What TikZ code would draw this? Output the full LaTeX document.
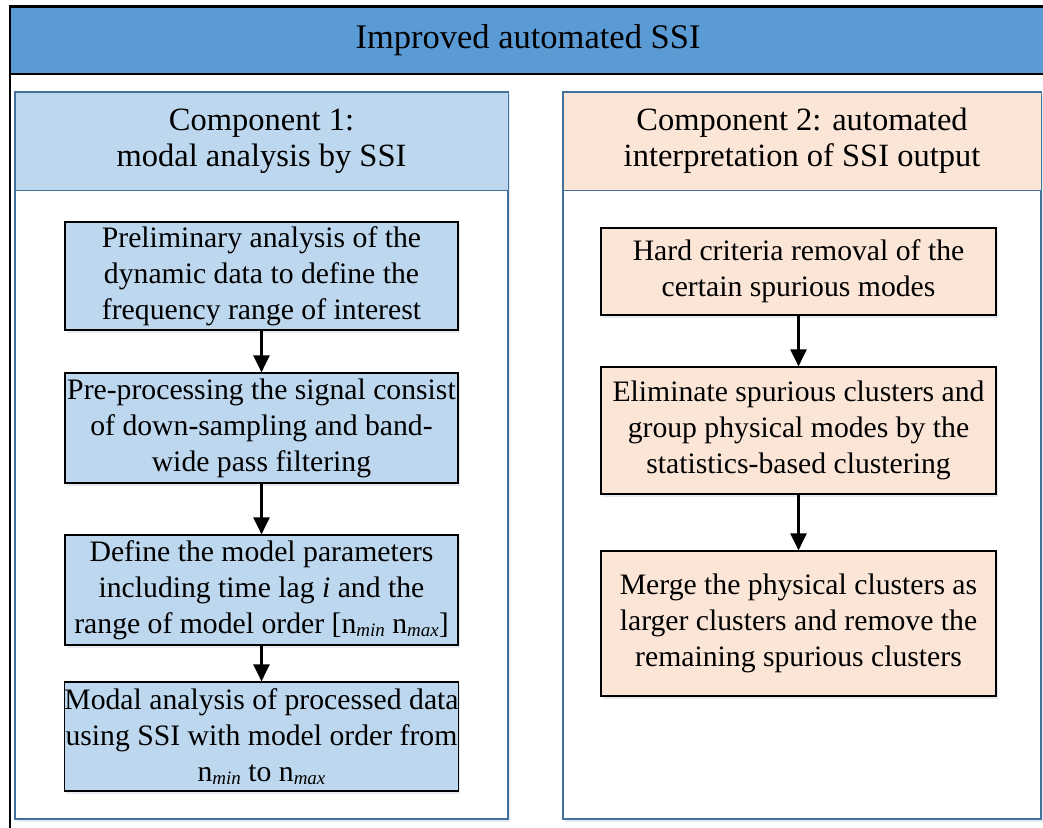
\documentclass[tikz,border=0pt]{standalone}
\usepackage{fontspec}
\setmainfont{Liberation Serif}
\usetikzlibrary{arrows.meta,shadows}
\definecolor{bannerblue}{HTML}{5B9BD5}
\definecolor{paleblue}{HTML}{BDD7EE}
\definecolor{peach}{HTML}{FBE5D6}
\definecolor{frameblue}{HTML}{41719C}
\newcommand{\lowit}[1]{\raisebox{-0.1em}{\fontsize{19}{19}\selectfont\itshape #1}}

\begin{document}
\begin{tikzpicture}[x=1pt,y=-1pt,
 font=\fontsize{29.7}{36}\selectfont,
 banner/.style={draw=black,line width=1.5pt,fill=bannerblue,inner sep=0pt,
  minimum width=1036pt,minimum height=67pt,font=\fontsize{34.5}{40}\selectfont},
 column/.style={draw=frameblue,line width=1.3pt,fill=white,inner sep=0pt,minimum height=727pt,
  drop shadow={shadow xshift=1.5pt,shadow yshift=-2.5pt,fill=frameblue!40,opacity=.35}},
 header/.style={draw=frameblue,line width=1pt,inner sep=0pt,minimum height=98pt,align=center,
  font=\fontsize{32.5}{36}\selectfont},
 stage/.style={draw=black,line width=1.2pt,inner sep=0pt,align=center,
  drop shadow={shadow xshift=1.5pt,shadow yshift=-3pt,fill=frameblue!45,opacity=.3}},
 flow/.style={-{Triangle[length=17pt,width=16pt]},line width=2.2pt}]
\path[use as bounding box] (0,0) rectangle (1043,827);
\draw[line width=1.5pt] (10,6) rectangle (1052,840);
\node[banner] (title) at (528,40.5) {Improved automated SSI};
% two component columns
\node[column,minimum width=493pt] (colL) at (261.5,455.5) {};
\node[column,minimum width=478pt] (colR) at (802,455.5) {};
\node[header,fill=paleblue,minimum width=493pt] (headL) at (261.5,141)
 {\raisebox{-3pt}{\parbox{480pt}{\centering Component 1:\\modal analysis by SSI}}};
\node[header,fill=peach,minimum width=478pt] (headR) at (802,141)
 {\raisebox{-3pt}{\parbox{470pt}{\centering Component 2: automated\\interpretation of SSI output}}};
% component 1
\node[stage,fill=paleblue,minimum width=393pt,minimum height=108pt] (sL1) at (261.5,276)
 {Preliminary analysis of the\\dynamic data to define the\\frequency range of interest};
\node[stage,fill=paleblue,minimum width=393pt,minimum height=110pt] (sL2) at (261.5,428)
 {Pre-processing the signal consist\\of down-sampling and band-\\wide pass filtering};
\node[stage,fill=paleblue,minimum width=393pt,minimum height=110pt] (sL3) at (261.5,590)
 {Define the model parameters\\including time lag \textit{i} and the\\range of model order [n\lowit{min} n\lowit{max}]};
\node[stage,fill=paleblue,minimum width=393pt,minimum height=109pt] (sL4) at (261.5,736.5)
 {Modal analysis of processed data\\using SSI with model order from\\n\lowit{min} to n\lowit{max}};
\draw[flow] (sL1) -- (sL2);
\draw[flow] (sL2) -- (sL3);
\draw[flow] (sL3) -- (sL4);
% component 2
\node[stage,fill=peach,minimum width=395pt,minimum height=87pt] (sR1) at (798.5,271.5)
 {Hard criteria removal of the\\certain spurious modes};
\node[stage,fill=peach,minimum width=395pt,minimum height=127pt] (sR2) at (798.5,430.5)
 {Eliminate spurious clusters and\\group physical modes by the\\statistics-based clustering};
\node[stage,fill=peach,minimum width=395pt,minimum height=145pt] (sR3) at (798.5,623.5)
 {Merge the physical clusters as\\larger clusters and remove the\\remaining spurious clusters};
\draw[flow] (sR1) -- (sR2);
\draw[flow] (sR2) -- (sR3);
\end{tikzpicture}
\end{document}
